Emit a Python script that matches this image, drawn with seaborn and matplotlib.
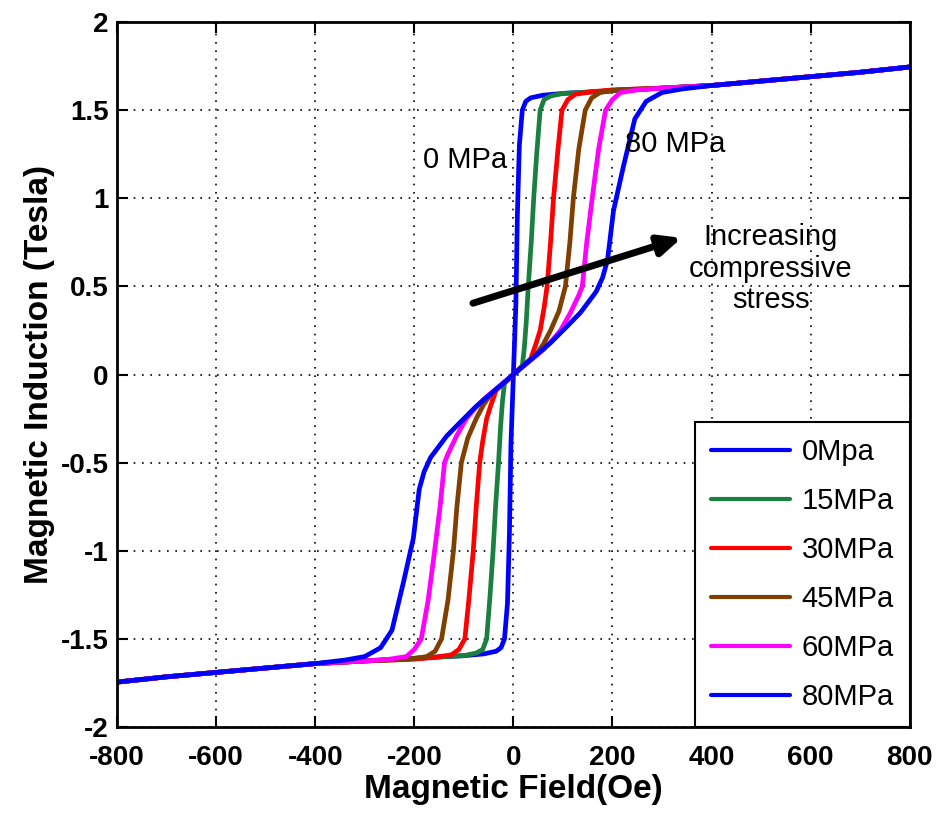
import matplotlib
matplotlib.use("Agg")
import matplotlib.pyplot as plt
import numpy as np
import pandas as pd
import seaborn as sns

# positive half of each B-H curve (Oe, Tesla); the curves are odd-symmetric
H_0 = [0, 5, 8, 12, 18, 25, 35, 60, 100, 200, 300, 400, 500, 600, 700, 800]
B_0 = [0, 0.4, 0.9, 1.3, 1.5, 1.55, 1.57, 1.585, 1.595, 1.61, 1.625, 1.64, 1.665, 1.69, 1.715, 1.745]
H_15 = [0, 18, 22, 26, 30, 36, 41, 47, 54, 62, 75, 100, 200, 300, 400, 500, 600, 700, 800]
B_15 = [0, 0.05, 0.15, 0.3, 0.5, 0.75, 1.0, 1.25, 1.5, 1.56, 1.58, 1.595, 1.61, 1.625, 1.64, 1.665, 1.69, 1.715, 1.745]
H_30 = [0, 35, 45, 54, 62, 68, 75, 81, 90, 98, 110, 125, 160, 200, 300, 400, 500, 600, 700, 800]
B_30 = [0, 0.09, 0.17, 0.25, 0.38, 0.5, 0.75, 1.0, 1.28, 1.5, 1.56, 1.59, 1.605, 1.615, 1.625, 1.64, 1.665, 1.69, 1.715, 1.745]
H_45 = [0, 45, 60, 75, 92, 105, 114, 121, 132, 145, 158, 175, 210, 300, 400, 500, 600, 700, 800]
B_45 = [0, 0.11, 0.17, 0.25, 0.36, 0.5, 0.75, 1.0, 1.28, 1.5, 1.57, 1.6, 1.615, 1.625, 1.64, 1.665, 1.69, 1.715, 1.745]
H_60 = [0, 60, 80, 95, 115, 132, 139, 148, 159, 172, 186, 200, 216, 250, 300, 400, 500, 600, 700, 800]
B_60 = [0, 0.14, 0.2, 0.25, 0.35, 0.45, 0.5, 0.75, 1.0, 1.28, 1.5, 1.56, 1.6, 1.615, 1.625, 1.64, 1.665, 1.69, 1.715, 1.745]
H_80 = [0, 75, 107, 135, 167, 180, 190, 202, 222, 245, 268, 300, 340, 400, 500, 600, 700, 800]
B_80 = [0, 0.18, 0.27, 0.35, 0.47, 0.55, 0.65, 0.93, 1.18, 1.45, 1.55, 1.6, 1.62, 1.64, 1.665, 1.69, 1.715, 1.745]

labels = ["0Mpa", "15MPa", "30MPa", "45MPa", "60MPa", "80MPa"]
colors = ["#0000ff", "#1a8040", "#ff0000", "#7f3f00", "#ff00ff", "#0000ff"]
curves = [(H_0, B_0), (H_15, B_15), (H_30, B_30), (H_45, B_45), (H_60, B_60), (H_80, B_80)]

rows = []
for lab, (h, b) in zip(labels, curves):
    h = np.asarray(h, float)
    b = np.asarray(b, float)
    hf = np.concatenate([-h[::-1], h[1:]])
    bf = np.concatenate([-b[::-1], b[1:]])
    for x, y in zip(hf, bf):
        rows.append({"stress": lab, "H": x, "B": y})
df = pd.DataFrame(rows)

sns.set_theme(style="white")
plt.rcParams["font.family"] = ["Liberation Sans", "DejaVu Sans"]
plt.rcParams["axes.unicode_minus"] = False
for k in ["text.color", "axes.labelcolor", "xtick.color", "ytick.color"]:
    plt.rcParams[k] = "black"

fig = plt.figure(figsize=(9.36, 8.16), dpi=100)
ax = fig.add_axes([0.125, 0.109, 0.847, 0.864])

sns.lineplot(data=df, x="H", y="B", hue="stress", hue_order=labels,
             palette=dict(zip(labels, colors)), sort=False, estimator=None,
             units="stress", linewidth=3.4, ax=ax)

ax.set_xlim(-800, 800)
ax.set_ylim(-2, 2)
ax.set_xticks(np.arange(-800, 801, 200))
ax.set_yticks(np.arange(-2, 2.01, 0.5))
ax.set_yticklabels(["%g" % v for v in np.arange(-2, 2.01, 0.5)])
ax.grid(True, linestyle=(0, (1, 4)), color="black", linewidth=1.2)
ax.tick_params(direction="in", length=8, width=1.5, labelsize=20,
               top=True, right=True, bottom=True, left=True)
ax.tick_params(axis="x", pad=13)
ax.tick_params(axis="y", pad=6)
for t in ax.get_xticklabels() + ax.get_yticklabels():
    t.set_fontweight("bold")
for s in ax.spines.values():
    s.set_color("black")
    s.set_linewidth(2)

ax.set_xlabel("Magnetic Field(Oe)", fontsize=24, fontweight="bold", labelpad=2)
ax.set_ylabel("Magnetic Induction (Tesla)", fontsize=24, fontweight="bold", labelpad=4)

ax.text(-97, 1.22, "0 MPa", fontsize=21, ha="center", va="center")
ax.text(226, 1.31, "80 MPa", fontsize=21, ha="left", va="center")
ax.text(520, 0.6, "Increasing\ncompressive\nstress", fontsize=21, ha="center",
        va="center", linespacing=1.15)
ax.annotate("", xy=(345, 0.78), xytext=(-87, 0.4),
            arrowprops=dict(arrowstyle="-|>,head_length=1.1,head_width=0.5",
                            color="black", lw=5))

leg = ax.legend(loc="lower right", borderaxespad=0, fontsize=21, frameon=True,
                fancybox=False, handlelength=2.7, labelspacing=0.72,
                borderpad=0.55, handletextpad=0.4)
leg.get_frame().set_edgecolor("black")
leg.get_frame().set_linewidth(1.5)
leg.get_frame().set_alpha(1)
for ln in leg.get_lines():
    ln.set_linewidth(3)

fig.savefig("out.png", dpi=100)
